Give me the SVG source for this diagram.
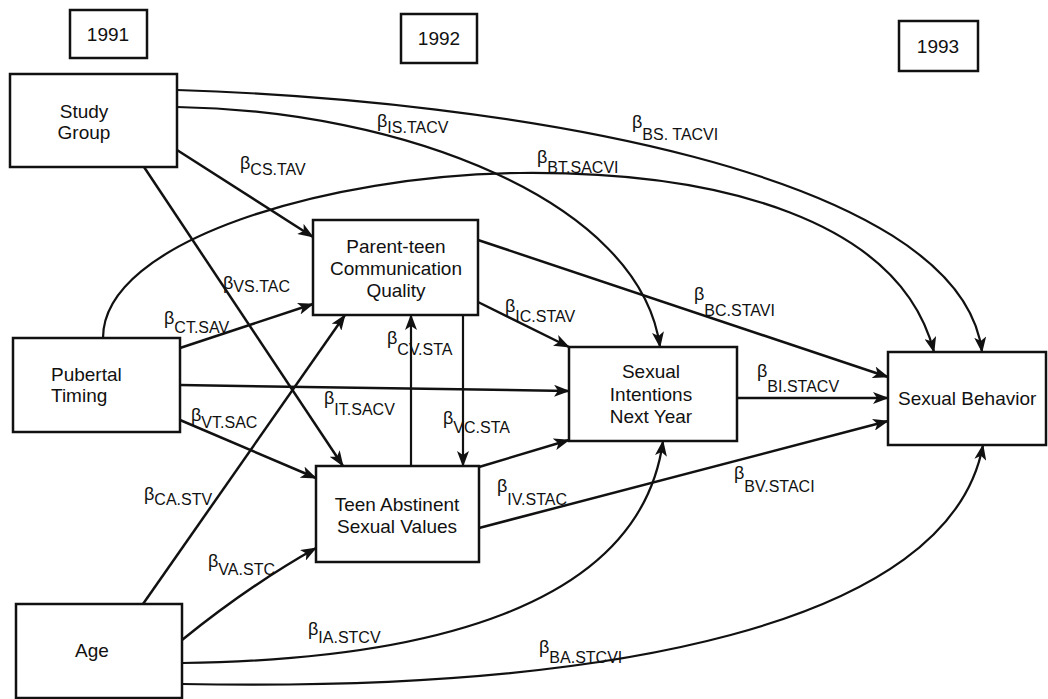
<svg xmlns="http://www.w3.org/2000/svg" width="1048" height="699" viewBox="0 0 1048 699">
<defs>
<style>
.box{fill:#fff;stroke:#111;stroke-width:2.5}
.t{font-family:"Liberation Sans",Arial,sans-serif;font-size:19px;fill:#111}
.tc{text-anchor:middle}
.ln{fill:none;stroke:#111;stroke-width:2.5}
.cv{fill:none;stroke:#111;stroke-width:2.2}
.b{font-family:"Liberation Sans",Arial,sans-serif;font-size:18px;fill:#111}
.s{font-size:16px}
</style>
<marker id="ah" markerUnits="userSpaceOnUse" viewBox="0 0 16 12" refX="15" refY="6" markerWidth="16" markerHeight="12" orient="auto">
<path d="M0,0 L16,6 L0,12 L4,6 z" fill="#111"/>
</marker>
</defs>
<rect width="1048" height="699" fill="#fff"/>

<g id="connectors">
<path class="cv" d="M177,90 C500,100 960,170 982,352" marker-end="url(#ah)"/>
<path class="cv" d="M177,107 C400,110 640,200 660,347" marker-end="url(#ah)"/>
<path class="cv" d="M103,338 C103,240 330,175 520,173 C720,171 900,220 934,352" marker-end="url(#ah)"/>
<path class="ln" d="M177,150 L313,237" marker-end="url(#ah)"/>
<path class="ln" d="M144,167 L343,466" marker-end="url(#ah)"/>
<path class="ln" d="M180,348 L313,304" marker-end="url(#ah)"/>
<path class="ln" d="M180,385 L569,391" marker-end="url(#ah)"/>
<path class="ln" d="M180,420 L316,478" marker-end="url(#ah)"/>
<path class="ln" d="M143,604 L345,315" marker-end="url(#ah)"/>
<path class="ln" d="M182,640 Q250,585 316,548" marker-end="url(#ah)"/>
<path class="cv" d="M182,663 C420,660 640,610 663,441" marker-end="url(#ah)"/>
<path class="cv" d="M182,684 C610,692 950,625 983,445" marker-end="url(#ah)"/>
<path class="ln" d="M478,302 L569,347" marker-end="url(#ah)"/>
<path class="ln" d="M478,240 L888,377" marker-end="url(#ah)"/>
<path class="cv" d="M411,466 L411,315" marker-end="url(#ah)"/>
<path class="cv" d="M463,315 L463,466" marker-end="url(#ah)"/>
<path class="ln" d="M479,467 L569,440" marker-end="url(#ah)"/>
<path class="ln" d="M479,528 L888,421" marker-end="url(#ah)"/>
<path class="ln" d="M737,398 L888,398" marker-end="url(#ah)"/>
</g>

<g id="labels" class="b">
<text x="240" y="169">β<tspan class="s" dy="6">CS.TAV</tspan></text>
<text x="377" y="127">β<tspan class="s" dy="6">IS.TACV</tspan></text>
<text x="632" y="128">β<tspan class="s" dy="12">BS. TACVI</tspan></text>
<text x="537" y="163">β<tspan class="s" dy="10">BT.SACVI</tspan></text>
<text x="223" y="289">β<tspan class="s" dy="3">VS.TAC</tspan></text>
<text x="164" y="324">β<tspan class="s" dy="9">CT.SAV</tspan></text>
<text x="324" y="404">β<tspan class="s" dy="11">IT.SACV</tspan></text>
<text x="191" y="421">β<tspan class="s" dy="7">VT.SAC</tspan></text>
<text x="144" y="500">β<tspan class="s" dy="5">CA.STV</tspan></text>
<text x="208" y="567">β<tspan class="s" dy="8">VA.STC</tspan></text>
<text x="308" y="635">β<tspan class="s" dy="8">IA.STCV</tspan></text>
<text x="539" y="653">β<tspan class="s" dy="10">BA.STCVI</tspan></text>
<text x="505" y="312">β<tspan class="s" dy="10">IC.STAV</tspan></text>
<text x="694" y="300">β<tspan class="s" dy="16">BC.STAVI</tspan></text>
<text x="387" y="344">β<tspan class="s" dy="11">CV.STA</tspan></text>
<text x="443" y="424">β<tspan class="s" dy="9">VC.STA</tspan></text>
<text x="757" y="377">β<tspan class="s" dy="15">BI.STACV</tspan></text>
<text x="497" y="492">β<tspan class="s" dy="13">IV.STAC</tspan></text>
<text x="734" y="479">β<tspan class="s" dy="13">BV.STACI</tspan></text>
</g>

<g id="y1991"><rect class="box" x="70" y="10" width="77" height="48"/><text class="t tc" x="108" y="41">1991</text></g>
<g id="y1992"><rect class="box" x="401" y="14" width="76" height="49"/><text class="t tc" x="439" y="45">1992</text></g>
<g id="y1993"><rect class="box" x="899" y="21" width="79" height="50"/><text class="t tc" x="938" y="53">1993</text></g>

<g id="study"><rect class="box" x="10" y="74" width="167" height="93"/><text class="t tc" x="84" y="118">Study</text><text class="t tc" x="84" y="139">Group</text></g>
<g id="pubertal"><rect class="box" x="13" y="338" width="167" height="94"/><text class="t" x="51" y="381">Pubertal</text><text class="t" x="51" y="402">Timing</text></g>
<g id="age"><rect class="box" x="16" y="604" width="166" height="94"/><text class="t tc" x="92" y="657">Age</text></g>
<g id="parent"><rect class="box" x="313" y="220" width="165" height="95"/><text class="t tc" x="396" y="253">Parent-teen</text><text class="t tc" x="396" y="275">Communication</text><text class="t tc" x="396" y="297">Quality</text></g>
<g id="teen"><rect class="box" x="316" y="466" width="163" height="96"/><text class="t tc" x="397" y="511">Teen Abstinent</text><text class="t tc" x="397" y="533">Sexual Values</text></g>
<g id="intentions"><rect class="box" x="569" y="347" width="168" height="94"/><text class="t tc" x="651" y="378">Sexual</text><text class="t tc" x="651" y="401">Intentions</text><text class="t tc" x="651" y="423">Next Year</text></g>
<g id="behavior"><rect class="box" x="888" y="352" width="158" height="93"/><text class="t" x="898" y="405">Sexual Behavior</text></g>
</svg>
